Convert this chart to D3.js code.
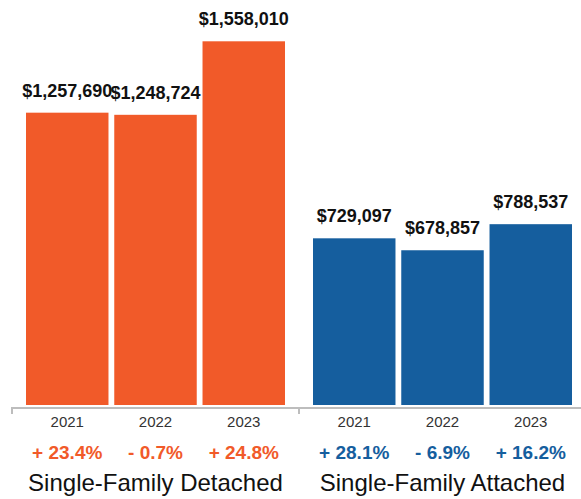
<!DOCTYPE html>
<html>
<head>
<meta charset="utf-8">
<script src="https://cdn.jsdelivr.net/npm/d3@7"></script>
<style>
  html, body { margin: 0; padding: 0; background: #fff; }
  svg { display: block; }
  text { font-family: Helvetica, Arial, "Liberation Sans", sans-serif; }
</style>
</head>
<body>
<script>
const groups = ["Single-Family Detached", "Single-Family Attached"];
const years = ["2021", "2022", "2023"];
const detachedValues = [1257690, 1248724, 1558010];
const attachedValues = [729097, 678857, 788537];
const detachedChanges = ["+ 23.4%", "- 0.7%", "+ 24.8%"];
const attachedChanges = ["+ 28.1%", "- 6.9%", "+ 16.2%"];
const groupColors = ["#F15A29", "#155E9E"];

const W = 581, H = 499;
const svg = d3.select("body").append("svg").attr("width", W).attr("height", H);

const data = groups.map((g, i) => ({
  group: g,
  color: groupColors[i],
  values: (i === 0 ? detachedValues : attachedValues).map((v, j) => ({
    year: years[j],
    value: v,
    change: (i === 0 ? detachedChanges : attachedChanges)[j]
  }))
}));

const x0 = d3.scaleBand().domain(groups).range([12, 586]).padding(0);
const x1 = d3.scaleBand().domain(years).range([14, x0.bandwidth() - 14]).paddingInner(0.0655).paddingOuter(0);
const y = d3.scaleLinear().domain([0, d3.max(detachedValues.concat(attachedValues))]).range([411.6, 41.3]);
const barBottom = 405;
const fmt = v => "$" + d3.format(",")(v);
const barCenter = (grp, yr) => x0(grp) + x1(yr) + x1.bandwidth() / 2;

const flat = data.flatMap(d => d.values.map(v => ({...v, group: d.group, color: d.color})));

svg.selectAll("rect.bar").data(flat).join("rect")
  .attr("class", "bar")
  .attr("x", d => x0(d.group) + x1(d.year))
  .attr("y", d => y(d.value))
  .attr("width", x1.bandwidth())
  .attr("height", d => barBottom - y(d.value))
  .attr("fill", d => d.color);

svg.selectAll("text.val").data(flat).join("text")
  .attr("class", "val")
  .attr("x", d => barCenter(d.group, d.year))
  .attr("y", d => y(d.value) - 16)
  .attr("text-anchor", "middle")
  .attr("font-size", 18)
  .attr("font-weight", "bold")
  .attr("fill", "#111")
  .text(d => fmt(d.value));

svg.selectAll("text.yr").data(flat).join("text")
  .attr("class", "yr")
  .attr("x", d => barCenter(d.group, d.year))
  .attr("y", 427)
  .attr("text-anchor", "middle")
  .attr("font-size", 15)
  .attr("fill", "#333")
  .text(d => d.year);

svg.selectAll("text.chg").data(flat).join("text")
  .attr("class", "chg")
  .attr("x", d => barCenter(d.group, d.year))
  .attr("y", 459)
  .attr("text-anchor", "middle")
  .attr("font-size", 19)
  .attr("font-weight", "bold")
  .attr("fill", d => d.color)
  .text(d => d.change);

svg.selectAll("text.title").data(groups).join("text")
  .attr("class", "title")
  .attr("x", d => x0(d) + x0.bandwidth() / 2)
  .attr("y", 491)
  .attr("text-anchor", "middle")
  .attr("font-size", 24)
  .attr("fill", "#111")
  .text(d => d);

// axis line
const axisY = 408;
svg.append("line")
  .attr("x1", x0.range()[0] - 1).attr("x2", W)
  .attr("y1", axisY).attr("y2", axisY)
  .attr("stroke", "#bdbdbd").attr("stroke-width", 2);
svg.selectAll("line.tick").data(groups).join("line")
  .attr("class", "tick")
  .attr("x1", d => x0(d)).attr("x2", d => x0(d))
  .attr("y1", axisY).attr("y2", axisY + 6)
  .attr("stroke", "#bdbdbd").attr("stroke-width", 2);
</script>
</body>
</html>
